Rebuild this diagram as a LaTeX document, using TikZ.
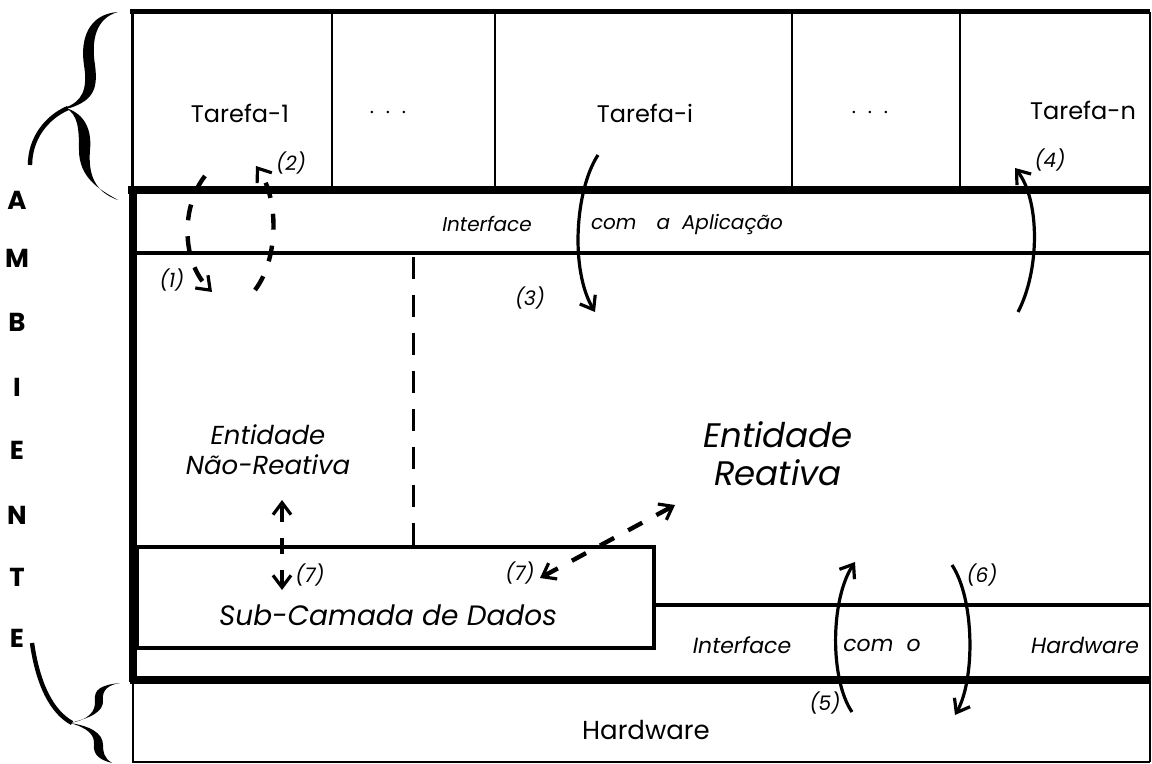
\documentclass[tikz,border=0pt]{standalone}
\usepackage{fontspec}
\setmainfont{Poppins}
\usetikzlibrary{arrows.meta}

\begin{document}
\begin{tikzpicture}[x=0.5pt,y=-0.5pt,>={Straight Barb[length=6pt,width=9pt,line width=1.6pt]},
  thin/.style={line width=1.2pt},
  mid/.style={line width=2pt},
  heavy/.style={line width=4pt},
  flow/.style={->,line width=1.6pt},
  dflow/.style={->,line width=2.2pt,dash pattern=on 8pt off 8pt},
  tag/.style={font=\fontsize{10}{11}\selectfont\itshape,inner sep=1pt},
  letter/.style={font=\fontsize{13}{14}\selectfont\bfseries}]
\useasboundingbox (0,0) rectangle (1152,764);
% frame
\draw[line width=2.5pt] (130,12)--(1150,12);
\draw[line width=1.5pt] (132,12)--(132,190);
\draw[thin] (1150,12)--(1150,762);
\foreach \x in {332,495,792,960} {\draw[thin] (\x,12)--(\x,190);}
\draw[heavy] (128,190)--(1150,190);
\draw[heavy] (133,186)--(133,682);
\draw[mid] (133,253)--(1150,253);
\draw[line width=1.5pt,dash pattern=on 11pt off 8pt] (413,257)--(413,545);
\draw[mid] (137,547) rectangle (654,648);
\draw[mid] (654,605)--(1150,605);
\draw[heavy] (130,680)--(1150,680);
\draw[thin] (133,680)--(133,762)--(1150,762);
% texts
\node (tarefa1) at (240,113) {\fontsize{12}{14}\selectfont Tarefa-1};
\node (dots1) at (388,113) {\fontsize{12}{14}\selectfont $\cdot\,\cdot\,\cdot$};
\node (tarefai) at (645,113) {\fontsize{12}{14}\selectfont Tarefa-i};
\node (dots2) at (870,113) {\fontsize{12}{14}\selectfont $\cdot\,\cdot\,\cdot$};
\node (tarefan) at (1083,110) {\fontsize{12}{14}\selectfont Tarefa-n};
\node (iapl) at (487,224) {\fontsize{10}{12}\selectfont\itshape Interface};
\node (comapl) at (687,224) {\fontsize{10}{12}\selectfont\itshape com\quad a\ \ Aplicação};
\node[align=center,font=\fontsize{13}{15}\selectfont\itshape] (naoreat) at (268,450) {Entidade\\Não-Reativa};
\node[align=center,font=\fontsize{17}{19}\selectfont\itshape] (reat) at (778,454) {Entidade\\Reativa};
\node (dados) at (388,615) {\fontsize{14}{16}\selectfont\itshape Sub-Camada de Dados};
\node (ihw) at (742,645) {\fontsize{11}{13}\selectfont\itshape Interface};
\node (como) at (882,645) {\fontsize{11}{13}\selectfont\itshape com\ \ o};
\node (hwi) at (1085,645) {\fontsize{11}{13}\selectfont\itshape Hardware};
\node (hw) at (646,730) {\fontsize{13}{15}\selectfont Hardware};
% AMBIENTE
\foreach \c/\y in {A/200,M/258,B/322,I/387,E/450,N/515,T/577,E/638}
  {\node[letter] at (17,\y) {\c};}
% braces
\fill (118,12) .. controls (88,14) and (80,40) .. (84,65) .. controls (88,90) and (82,102) .. (64,108)
  -- (70,108) .. controls (94,100) and (98,88) .. (95,65) .. controls (91,40) and (96,18) .. (118,12) -- cycle;
\fill (66,108) .. controls (85,114) and (92,130) .. (90,150) .. controls (88,175) and (95,192) .. (118,200)
  .. controls (100,190) and (79,178) .. (79,150) .. controls (79,128) and (78,115) .. (66,108) -- cycle;
\draw[line width=2.2pt] (68,108) .. controls (45,118) and (30,140) .. (30,165);
\fill (120,683) .. controls (100,685) and (94,690) .. (95,700) .. controls (96,712) and (88,720) .. (70,723)
  .. controls (90,718) and (104,712) .. (103,700) .. controls (102,690) and (108,685) .. (120,683) -- cycle;
\fill (70,723) .. controls (88,728) and (95,735) .. (94,745) .. controls (93,755) and (100,760) .. (112,763)
  .. controls (104,758) and (103,752) .. (103,745) .. controls (103,733) and (90,726) .. (70,723) -- cycle;
\draw[line width=2.2pt] (32,643) .. controls (38,685) and (52,712) .. (72,723);
% flows
\coordinate (d1s) at (205,176); \coordinate (d1e) at (212,292);
\coordinate (d2s) at (255,290); \coordinate (d2e) at (256,166);
\coordinate (a3s) at (598,155); \coordinate (a3e) at (595,312);
\coordinate (a4s) at (1018,312); \coordinate (a4e) at (1015,168);
\coordinate (a5s) at (852,712); \coordinate (a5e) at (855,562);
\coordinate (a6s) at (952,565); \coordinate (a6e) at (955,715);
\coordinate (a7t) at (282,500); \coordinate (a7b) at (282,590);
\coordinate (a7r) at (675,505); \coordinate (a7l) at (540,578);
\draw[dflow] (d1s) .. controls (182,205) and (180,260) .. (d1e);
\draw[dflow] (d2s) .. controls (278,260) and (280,200) .. (d2e);
\draw[flow] (a3s) .. controls (575,190) and (570,270) .. (a3e);
\draw[flow] (a4s) .. controls (1040,270) and (1040,200) .. (a4e);
\draw[flow] (a5s) .. controls (830,680) and (830,600) .. (a5e);
\draw[flow] (a6s) .. controls (975,600) and (975,680) .. (a6e);
\draw[dflow,<->] (a7b) -- (a7t);
\draw[dflow,<->] (a7l) -- (a7r);
\node[tag] (t1) at (172,280) {(1)};
\node[tag] (t2) at (291,163) {(2)};
\node[tag] (t3) at (530,298) {(3)};
\node[tag] (t4) at (1050,160) {(4)};
\node[tag] (t5) at (825,703) {(5)};
\node[tag] (t6) at (982,575) {(6)};
\node[tag] (t7a) at (310,575) {(7)};
\node[tag] (t7b) at (520,573) {(7)};
\end{tikzpicture}
\end{document}
